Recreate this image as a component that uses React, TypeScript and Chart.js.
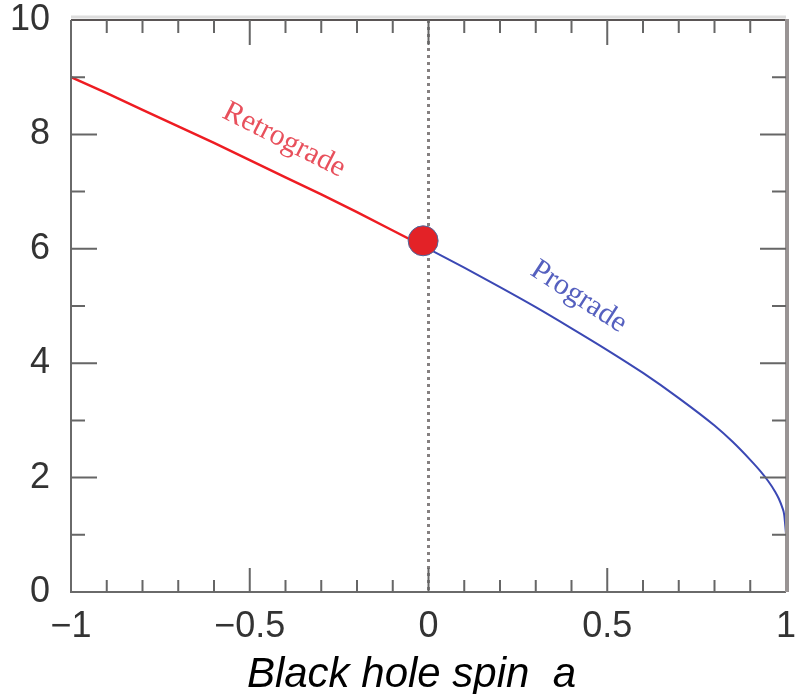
import React, { useEffect, useRef } from "react";
import { Chart, registerables } from "chart.js";

Chart.register(...registerables);

// Retrograde branch (spin < 0) — ISCO radius
const retroSpin = [-1, -0.9, -0.8, -0.7, -0.6, -0.5, -0.4, -0.3, -0.2, -0.1, 0];
const retroRadius = [9.0, 8.72, 8.43, 8.14, 7.85, 7.55, 7.25, 6.95, 6.64, 6.32, 6.0];

// Prograde branch (spin > 0)
const proSpin = [0, 0.1, 0.2, 0.3, 0.4, 0.5, 0.6, 0.7, 0.8, 0.85, 0.9, 0.93, 0.95, 0.97, 0.98, 0.99, 0.995, 1.0];
const proRadius = [6.0, 5.67, 5.33, 4.98, 4.61, 4.23, 3.83, 3.39, 2.91, 2.63, 2.31, 2.1, 1.94, 1.75, 1.63, 1.47, 1.35, 1.02];

// Marker at zero spin
const markerSpin = [-0.015];
const markerRadius = [6.14];

// Curve labels
const curveLabels = ["Retrograde", "Prograde"];
const curveLabelSpin = [-0.404, 0.42];
const curveLabelRadius = [7.9, 5.16];

const xTitle = "Black hole spin  a";

const toPts = (xs: number[], ys: number[]) => xs.map((x, i) => ({ x, y: ys[i] }));

const decorPlugin = {
  id: "decor",
  beforeDatasetsDraw(chart: any) {
    const { ctx, chartArea: a, scales } = chart;
    const x0 = scales.x.getPixelForValue(0);
    ctx.save();
    ctx.strokeStyle = "#858080";
    ctx.lineWidth = 3;
    ctx.setLineDash([3, 4]);
    ctx.beginPath();
    ctx.moveTo(x0, a.top);
    ctx.lineTo(x0, a.bottom);
    ctx.stroke();
    ctx.restore();
  },
  afterDatasetsDraw(chart: any) {
    const { ctx, chartArea: a, scales } = chart;
    const xs = scales.x;
    const ys = scales.y;
    ctx.save();
    // frame
    ctx.setLineDash([]);
    ctx.strokeStyle = "#dddddd";
    ctx.lineWidth = 3;
    ctx.beginPath();
    ctx.moveTo(a.left, a.top - 3);
    ctx.lineTo(a.right, a.top - 3);
    ctx.stroke();
    ctx.strokeStyle = "#5a5555";
    ctx.lineWidth = 2;
    ctx.beginPath();
    ctx.moveTo(a.left, a.top);
    ctx.lineTo(a.right, a.top);
    ctx.stroke();
    ctx.strokeStyle = "#6a6a6a";
    ctx.beginPath();
    ctx.moveTo(a.left, a.top);
    ctx.lineTo(a.left, a.bottom);
    ctx.lineTo(a.right, a.bottom);
    ctx.stroke();
    ctx.strokeStyle = "#999494";
    ctx.lineWidth = 4;
    ctx.beginPath();
    ctx.moveTo(a.right + 1, a.top - 1);
    ctx.lineTo(a.right + 1, a.bottom);
    ctx.stroke();

    // ticks, inward on all four sides
    ctx.strokeStyle = "#666";
    ctx.lineWidth = 2;
    for (let i = -10; i <= 10; i++) {
      const v = i / 10;
      const px = xs.getPixelForValue(v);
      const major = i % 5 === 0;
      const len = major ? 24 : 12;
      if (i === -10 || i === 10) continue;
      ctx.beginPath();
      ctx.moveTo(px, a.bottom);
      ctx.lineTo(px, a.bottom - len);
      ctx.moveTo(px, a.top);
      ctx.lineTo(px, a.top + len + 1);
      ctx.stroke();
    }
    for (let j = 1; j < 10; j++) {
      const py = ys.getPixelForValue(j);
      const major = j % 2 === 0;
      const len = major ? 26 : 14;
      ctx.beginPath();
      ctx.moveTo(a.left, py);
      ctx.lineTo(a.left + len, py);
      ctx.moveTo(a.right, py);
      ctx.lineTo(a.right - len, py);
      ctx.stroke();
    }

    // curve labels
    const colors = ["#e8505c", "#5560bf"];
    const angles = [27, 33];
    ctx.font = "30px 'Liberation Serif', serif";
    ctx.textAlign = "center";
    ctx.textBaseline = "middle";
    curveLabels.forEach((t, k) => {
      const px = xs.getPixelForValue(curveLabelSpin[k]);
      const py = ys.getPixelForValue(curveLabelRadius[k]);
      ctx.save();
      ctx.translate(px, py);
      ctx.rotate((angles[k] * Math.PI) / 180);
      ctx.fillStyle = colors[k];
      ctx.fillText(t, 0, 0);
      ctx.restore();
    });

    // axis title
    ctx.font = "italic 42px 'Liberation Sans', Arial, sans-serif";
    ctx.fillStyle = "#000";
    ctx.textAlign = "center";
    ctx.textBaseline = "alphabetic";
    ctx.fillText(xTitle, (a.left + a.right) / 2 - 17, 687);
    ctx.restore();
  },
};

export default function App() {
  const ref = useRef<HTMLCanvasElement | null>(null);
  useEffect(() => {
    document.body.style.margin = "0";
    const canvas = ref.current!;
    const chart = new Chart(canvas, {
      type: "scatter",
      data: {
        datasets: [
          {
            type: "scatter",
            data: toPts(markerSpin, markerRadius),
            pointRadius: 15,
            pointHoverRadius: 15,
            backgroundColor: "#e32227",
            borderColor: "#4a6aa0",
            borderWidth: 1,
            order: 0,
          } as any,
          {
            type: "line",
            data: toPts(retroSpin, retroRadius),
            borderColor: "#ee1c22",
            borderWidth: 2.5,
            pointRadius: 0,
            fill: false,
            order: 2,
          },
          {
            type: "line",
            data: toPts(proSpin, proRadius),
            borderColor: "#3b48b4",
            borderWidth: 2,
            pointRadius: 0,
            fill: false,
            cubicInterpolationMode: "monotone",
            order: 1,
          },
        ],
      },
      options: {
        responsive: false,
        animation: false,
        layout: { autoPadding: false, padding: { top: 20, right: 9, left: 0, bottom: 0 } },
        plugins: { legend: { display: false }, tooltip: { enabled: false } },
        scales: {
          x: {
            type: "linear",
            min: -1,
            max: 1,
            border: { display: false },
            grid: { display: false, drawTicks: false },
            ticks: {
              stepSize: 0.5,
              padding: 13,
              color: "#333",
              font: { size: 36, family: "'Liberation Sans', Arial, sans-serif" },
              maxRotation: 0,
              callback: (v: any) => (v < 0 ? "\u2212" + Math.abs(v) : String(v)),
            },
            afterFit: (s: any) => {
              s.height = 102;
              s.paddingLeft = 0;
              s.paddingRight = 0;
            },
          },
          y: {
            type: "linear",
            min: 0,
            max: 10,
            border: { display: false },
            grid: { display: false, drawTicks: false },
            ticks: {
              stepSize: 2,
              padding: 21,
              color: "#333",
              font: { size: 36, family: "'Liberation Sans', Arial, sans-serif" },
            },
            afterFit: (s: any) => {
              s.width = 71;
              s.paddingTop = 0;
              s.paddingBottom = 0;
            },
          },
        },
      },
      plugins: [decorPlugin],
    });
    return () => chart.destroy();
  }, []);
  return (
    <canvas ref={ref} width={795} height={694} style={{ display: "block" }} />
  );
}
